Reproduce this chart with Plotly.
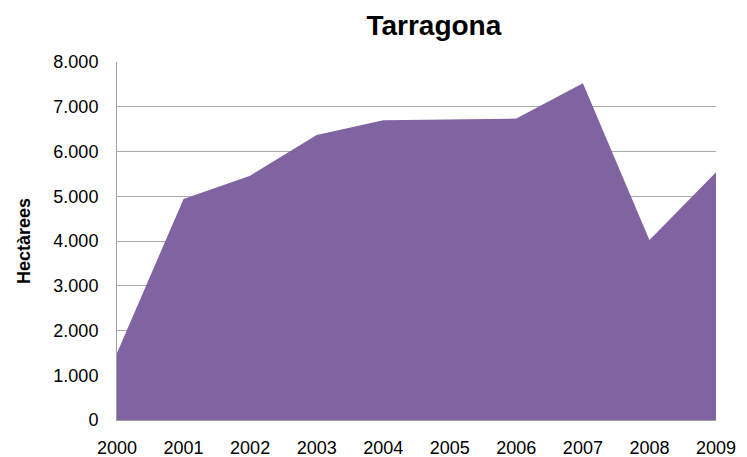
import plotly.graph_objects as go

years = [2000, 2001, 2002, 2003, 2004, 2005, 2006, 2007, 2008, 2009]
hectares = [1500, 4940, 5460, 6370, 6700, 6725, 6735, 7525, 4020, 5535]
y_ticks = [0, 1000, 2000, 3000, 4000, 5000, 6000, 7000, 8000]
y_tick_labels = ["0", "1.000", "2.000", "3.000", "4.000", "5.000", "6.000", "7.000", "8.000"]

W, H = 739, 449  # page body has an 8px margin

fig = go.Figure()
fig.add_trace(go.Scatter(
    x=years, y=hectares, mode="lines", fill="tozeroy",
    fillcolor="#8064A2", line=dict(width=0, color="#8064A2"),
    hoverinfo="x+y", showlegend=False,
))

fig.update_layout(
    width=W, height=H,
    margin=dict(l=109, r=31, t=54, b=37, autoexpand=False),
    paper_bgcolor="white", plot_bgcolor="white",
    font=dict(family="Liberation Sans, Arial, sans-serif", size=18, color="black"),
    title=dict(text="<b>Tarragona</b>", x=0.529, xref="paper", xanchor="center",
               y=1 - 17 / H, yanchor="middle", yref="container",
               font=dict(size=28, color="black")),
    xaxis=dict(range=[2000, 2009], tickmode="array", tickvals=years,
               ticktext=[str(y) for y in years], showgrid=False, zeroline=False,
               showline=True, linecolor="#a0a0a0", linewidth=1, ticks="",
               ticklabelstandoff=11, automargin=False, tickfont=dict(size=18)),
    yaxis=dict(range=[0, 8000], tickmode="array", tickvals=y_ticks,
               ticktext=y_tick_labels, showgrid=True, gridcolor="#aaaaaa",
               gridwidth=1, zeroline=False, showline=True, linecolor="#a0a0a0",
               linewidth=1, ticks="", ticklabelstandoff=14, automargin=False,
               tickfont=dict(size=18),
               title=dict(text="<b>Hectàrees</b>", font=dict(size=18), standoff=18)),
)

fig.write_html("out.html")
